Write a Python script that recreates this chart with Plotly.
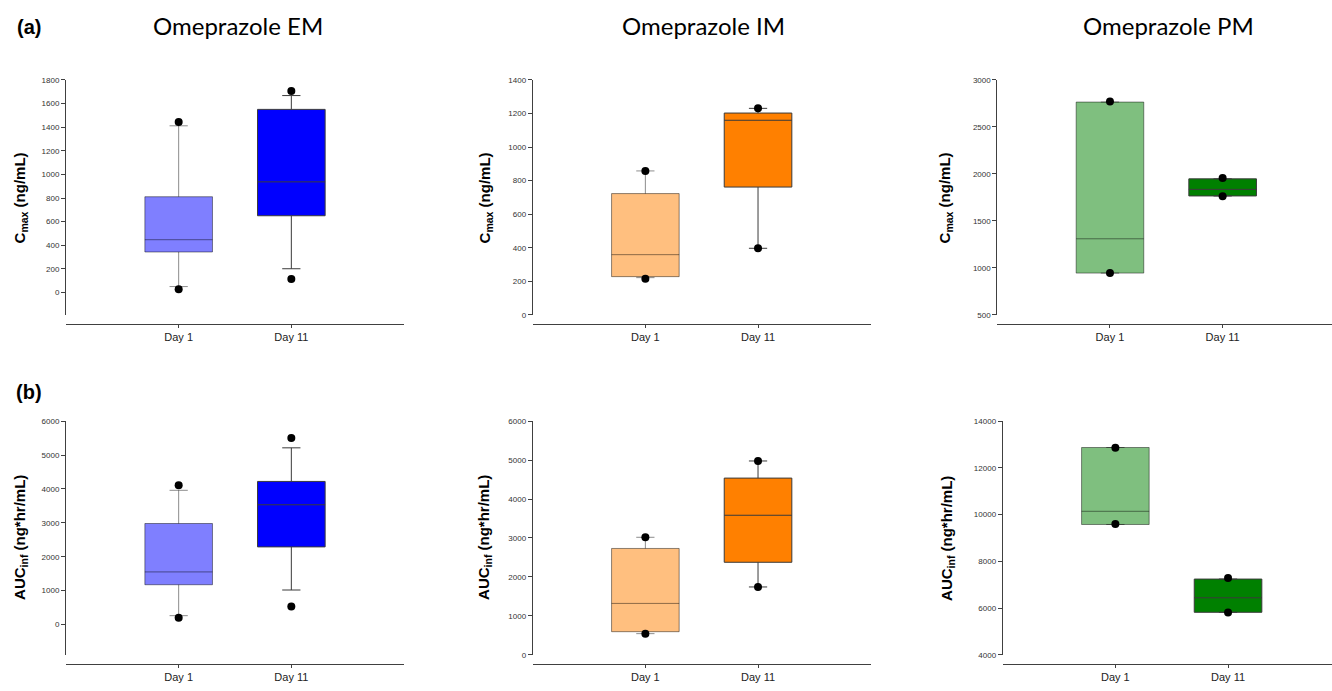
import plotly.graph_objects as go

days = ["Day 1", "Day 11"]

# ---- (a) Cmax ----
em_cmax_q1 = [343, 650]
em_cmax_med = [447, 937]
em_cmax_q3 = [811, 1551]
em_cmax_lo = [50, 201]
em_cmax_hi = [1412, 1668]
em_cmax_pts = [[1444, 28], [1707, 115]]

im_cmax_q1 = [228, 762]
im_cmax_med = [359, 1160]
im_cmax_q3 = [723, 1203]
im_cmax_lo = [222, 397]
im_cmax_hi = [858, 1231]
im_cmax_pts = [[858, 216], [1231, 397]]

pm_cmax_q1 = [945, 1766]
pm_cmax_med = [1310, 1836]
pm_cmax_q3 = [2765, 1948]
pm_cmax_lo = [945, 1766]
pm_cmax_hi = [2765, 1948]
pm_cmax_pts = [[2770, 945], [1957, 1762]]

# ---- (b) AUCinf ----
em_auc_q1 = [1175, 2291]
em_auc_med = [1553, 3534]
em_auc_q3 = [2981, 4223]
em_auc_lo = [262, 1019]
em_auc_hi = [3961, 5214]
em_auc_pts = [[4107, 204], [5505, 534]]

im_auc_q1 = [592, 2375]
im_auc_med = [1318, 3583]
im_auc_q3 = [2730, 4538]
im_auc_lo = [541, 1741]
im_auc_hi = [3017, 4978]
im_auc_pts = [[3017, 541], [4978, 1741]]

pm_auc_q1 = [9577, 5817]
pm_auc_med = [10141, 6437]
pm_auc_q3 = [12873, 7239]
pm_auc_lo = [9577, 5817]
pm_auc_hi = [12873, 7239]
pm_auc_pts = [[12859, 9592], [7282, 5803]]

titles = ["Omeprazole EM", "Omeprazole IM", "Omeprazole PM"]
cmax_title = "C<sub>max</sub> (ng/mL)"
auc_title = "AUC<sub>inf</sub> (ng*hr/mL)"

W, H = 1332, 691

def px(x):
    return x / W

def py(y):
    return 1 - y / H

group_rgb = ["0,0,255", "255,128,0", "0,128,0"]

panels = [
    dict(q1=em_cmax_q1, med=em_cmax_med, q3=em_cmax_q3, lo=em_cmax_lo, hi=em_cmax_hi, pts=em_cmax_pts,
         g=0, row=0, xd=(66, 404), xr=(-1, 2), yr=(-190, 1800), dt=200, t0=0),
    dict(q1=im_cmax_q1, med=im_cmax_med, q3=im_cmax_q3, lo=im_cmax_lo, hi=im_cmax_hi, pts=im_cmax_pts,
         g=1, row=0, xd=(532.7, 870.7), xr=(-1, 2), yr=(0, 1400), dt=200, t0=0),
    dict(q1=pm_cmax_q1, med=pm_cmax_med, q3=pm_cmax_q3, lo=pm_cmax_lo, hi=pm_cmax_hi, pts=pm_cmax_pts,
         g=2, row=0, xd=(997.3, 1332), xr=(-1, 1.9706), yr=(500, 3000), dt=500, t0=500),
    dict(q1=em_auc_q1, med=em_auc_med, q3=em_auc_q3, lo=em_auc_lo, hi=em_auc_hi, pts=em_auc_pts,
         g=0, row=1, xd=(66, 404), xr=(-1, 2), yr=(-890, 6000), dt=1000, t0=0),
    dict(q1=im_auc_q1, med=im_auc_med, q3=im_auc_q3, lo=im_auc_lo, hi=im_auc_hi, pts=im_auc_pts,
         g=1, row=1, xd=(532.7, 870.7), xr=(-1, 2), yr=(0, 6000), dt=1000, t0=0),
    dict(q1=pm_auc_q1, med=pm_auc_med, q3=pm_auc_q3, lo=pm_auc_lo, hi=pm_auc_hi, pts=pm_auc_pts,
         g=2, row=1, xd=(1002.7, 1332), xr=(-1, 1.9227), yr=(4000, 14000), dt=2000, t0=4000),
]

rows = [dict(top=77, bot=315, xaxis_y=324.5), dict(top=422.7, bot=659.3, xaxis_y=669)]

fig = go.Figure()
layout = {}
axis_color = "#404040"
font_fam = "Liberation Sans, Arial, sans-serif"

for i, p in enumerate(panels):
    n = i + 1
    xa = "x" if n == 1 else f"x{n}"
    ya = "y" if n == 1 else f"y{n}"
    rgb = group_rgb[p["g"]]
    for d in range(2):
        if d == 0:
            fill = f"rgba({rgb},0.5)"
            lc = "rgba(0,0,0,0.45)"
        else:
            fill = f"rgb({rgb})"
            lc = "#3a3a3a"
        fig.add_trace(go.Box(
            x=[d], q1=[p["q1"][d]], median=[p["med"][d]], q3=[p["q3"][d]],
            lowerfence=[p["lo"][d]], upperfence=[p["hi"][d]],
            width=0.6, whiskerwidth=0.27, fillcolor=fill,
            line=dict(color=lc, width=1), boxpoints=False,
            xaxis=xa, yaxis=ya, showlegend=False, hoverinfo="skip"))
    for d in range(2):
        fig.add_trace(go.Scatter(
            x=[d] * len(p["pts"][d]), y=p["pts"][d], mode="markers",
            marker=dict(color="black", size=8),
            xaxis=xa, yaxis=ya, showlegend=False, hoverinfo="skip"))
    r = rows[p["row"]]
    layout[f"xaxis{'' if n == 1 else n}"] = dict(
        domain=[px(p["xd"][0]), px(p["xd"][1])], range=list(p["xr"]),
        anchor="free", position=py(r["xaxis_y"]),
        showline=True, linecolor=axis_color, linewidth=1,
        ticks="outside", ticklen=3, tickcolor=axis_color,
        tickvals=[0, 1], ticktext=days,
        tickfont=dict(family=font_fam, size=11, color="#222"),
        showgrid=False, zeroline=False, fixedrange=True)
    layout[f"yaxis{'' if n == 1 else n}"] = dict(
        domain=[py(r["bot"]), py(r["top"])], range=list(p["yr"]),
        anchor=xa, showline=True, linecolor=axis_color, linewidth=1,
        ticks="outside", ticklen=4, tickcolor=axis_color,
        dtick=p["dt"], tick0=p["t0"], tickformat="d",
        tickfont=dict(family=font_fam, size=8, color="#333"),
        showgrid=False, zeroline=False, fixedrange=True)

annotations = []
title_x = [238, 703, 1168]
for k, t in enumerate(titles):
    annotations.append(dict(text=t, x=px(title_x[k]), y=py(22), xref="paper", yref="paper",
                            xanchor="center", yanchor="middle", showarrow=False,
                            font=dict(family="Lato, Carlito, sans-serif", size=24, color="black")))
annotations.append(dict(text="(a)", x=px(29), y=py(23), xref="paper", yref="paper",
                        xanchor="center", yanchor="middle", showarrow=False,
                        font=dict(family=font_fam, size=20, color="black", weight="bold")))
annotations.append(dict(text="(b)", x=px(29), y=py(393), xref="paper", yref="paper",
                        xanchor="center", yanchor="middle", showarrow=False,
                        font=dict(family=font_fam, size=20, color="black", weight="bold")))
ytitle_pos = [(20, 197), (485, 197), (945, 197), (21, 541), (485, 541), (948, 541)]
for k, (x, y) in enumerate(ytitle_pos):
    annotations.append(dict(text=(cmax_title if k < 3 else auc_title),
                            x=px(x), y=py(y), xref="paper", yref="paper",
                            xanchor="center", yanchor="middle", textangle=-90, showarrow=False,
                            font=dict(family=font_fam, size=15, color="black", weight="bold")))

fig.update_layout(**layout)
fig.update_layout(
    width=W, height=H, margin=dict(l=0, r=0, t=0, b=0),
    paper_bgcolor="white", plot_bgcolor="white",
    annotations=annotations, showlegend=False, boxmode="overlay")

fig.write_html("out.html", config={"displayModeBar": False},
               post_script="document.body.style.margin='0px';document.body.style.overflow='hidden';")
